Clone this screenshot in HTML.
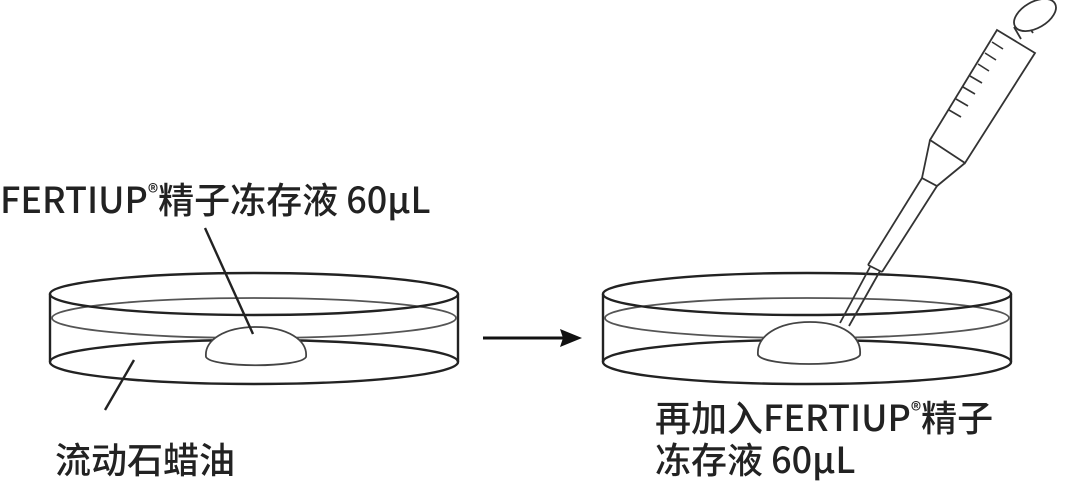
<!DOCTYPE html>
<html><head><meta charset="utf-8"><style>
html,body{margin:0;padding:0;background:#fff;width:1080px;height:489px;overflow:hidden}
svg{display:block}
text{font-family:"Noto Sans CJK SC","Liberation Sans",sans-serif;font-size:36px;fill:#222;font-weight:500}
</style></head><body>
<svg width="1080" height="489" viewBox="0 0 1080 489" xmlns="http://www.w3.org/2000/svg">
<g fill="none" stroke="#222" stroke-width="2.4">
  <g>
    <ellipse cx="254" cy="362" rx="204" ry="22" fill="#fff"/>
    <line x1="50" y1="294" x2="50" y2="362"/>
    <line x1="458" y1="294" x2="458" y2="362"/>
    <ellipse cx="254" cy="318" rx="202" ry="20" stroke="#555" stroke-width="1.8"/>
    <path d="M206 357 C204 340 225 327 256 327 C287 327 308 340 306 357 C300 368 212 368 206 357 Z" fill="#fff" stroke="#444" stroke-width="1.8"/>
    <ellipse cx="254" cy="294" rx="204" ry="21"/>
  </g>
  <g transform="translate(553,0)">
    <ellipse cx="254" cy="362" rx="204" ry="22" fill="#fff"/>
    <line x1="50" y1="294" x2="50" y2="362"/>
    <line x1="458" y1="294" x2="458" y2="362"/>
    <ellipse cx="254" cy="318" rx="202" ry="20" stroke="#555" stroke-width="1.8"/>
    <path d="M205 355 C203 336 225 322 257 322 C289 322 309 336 307 355 C300 367 212 367 205 355 Z" fill="#fff" stroke="#444" stroke-width="1.8"/>
    <ellipse cx="254" cy="294" rx="204" ry="21"/>
  </g>
  <line x1="205" y1="228" x2="253" y2="334"/>
  <line x1="134" y1="360" x2="105" y2="410"/>
  <g stroke="#333" stroke-width="1.8">
    <line x1="1014" y1="27" x2="1021" y2="39"/>
    <line x1="1025" y1="21" x2="1033" y2="33"/>
    <ellipse cx="1035" cy="15" rx="23" ry="13" transform="rotate(-30 1035 15)" fill="#fff"/>
    <polygon points="997,30 1035,53 965,163 930,140" fill="#fff"/>
    <polyline points="930,140 922,178 937,186 965,163"/>
    <line x1="922" y1="178" x2="868" y2="265"/>
    <line x1="937" y1="186" x2="882" y2="272"/>
    <line x1="868" y1="265" x2="882" y2="272"/>
    <line x1="870" y1="267" x2="840" y2="323"/>
    <line x1="880" y1="271" x2="849" y2="326"/>
    <g stroke-width="1.6">
      <line x1="992" y1="42" x2="1003" y2="49"/>
      <line x1="985" y1="53" x2="996" y2="60"/>
      <line x1="978" y1="64" x2="989" y2="71"/>
      <line x1="970" y1="76" x2="982" y2="83"/>
      <line x1="963" y1="87" x2="975" y2="94"/>
      <line x1="956" y1="99" x2="968" y2="106"/>
      <line x1="949" y1="110" x2="961" y2="117"/>
    </g>
  </g>
  <line x1="483" y1="338" x2="565" y2="338" stroke="#111" stroke-width="3"/>
</g>
<polygon points="582,338 560,329 563,338 560,347" fill="#111"/>
<text x="0" y="213">FERTIUP<tspan font-size="21" dy="-13">®</tspan><tspan dy="13">精子冻存液 60μL</tspan></text>
<text x="55" y="473">流动石蜡油</text>
<text x="655" y="431">再加入FERTIUP<tspan font-size="21" dy="-13">®</tspan><tspan dy="13">精子</tspan></text>
<text x="655" y="473">冻存液 60μL</text>
</svg>
</body></html>
